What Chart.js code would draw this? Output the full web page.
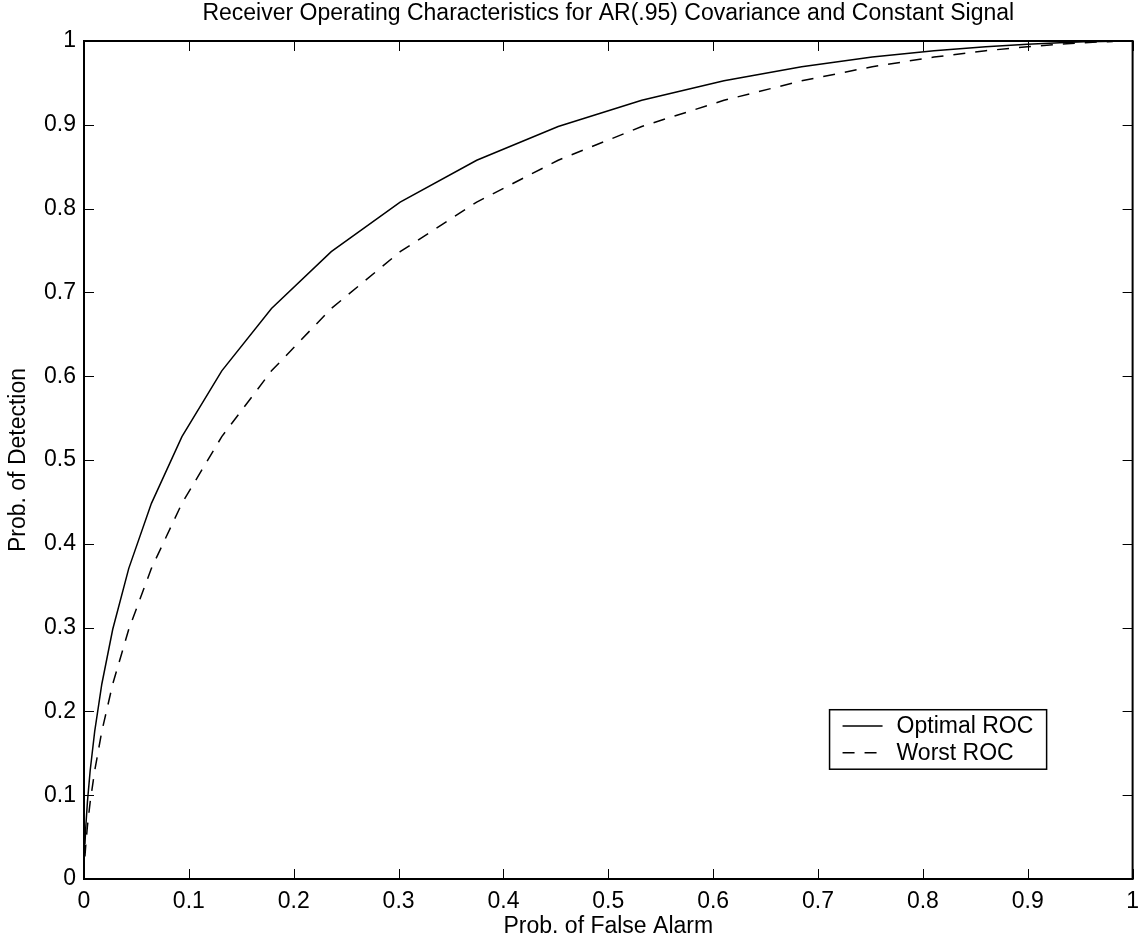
<!DOCTYPE html>
<html>
<head>
<meta charset="utf-8">
<title>Receiver Operating Characteristics</title>
<script src="https://cdn.jsdelivr.net/npm/chart.js@4.4.1/dist/chart.umd.min.js"></script>
<style>
  html, body { margin: 0; padding: 0; background: #ffffff; }
  #wrap { width: 1148px; height: 943px; }
</style>
</head>
<body>
<div id="wrap"><canvas id="rocChart" width="1148" height="943"></canvas></div>
<script>
// ROC operating points, one per detector threshold (shared by both curves)
const falseAlarm = [
  0.0009, 0.00175, 0.00326, 0.00587, 0.0102, 0.0170, 0.0274, 0.0427, 0.0643,
  0.0934, 0.1314, 0.1788, 0.2358, 0.3015, 0.3745, 0.4522, 0.5319, 0.6103,
  0.6844, 0.7517, 0.8106, 0.8599, 0.8997, 0.9306, 0.9535, 0.9699, 0.9812
];
const optimalDetect = [
  0.0418, 0.0630, 0.0918, 0.1292, 0.1762, 0.2327, 0.2980, 0.3707, 0.4483,
  0.5279, 0.6064, 0.6808, 0.7486, 0.8078, 0.8577, 0.8980, 0.9292, 0.9525,
  0.9693, 0.9808, 0.9884, 0.9932, 0.9962, 0.9980, 0.9990, 0.9995, 0.9998
];
const worstDetect = [
  0.0268, 0.0418, 0.0630, 0.0918, 0.1292, 0.1762, 0.2327, 0.2980, 0.3707,
  0.4483, 0.5279, 0.6064, 0.6808, 0.7486, 0.8078, 0.8577, 0.8980, 0.9292,
  0.9525, 0.9693, 0.9808, 0.9884, 0.9932, 0.9962, 0.9980, 0.9990, 0.9995
];
const tickValues = [0, 0.1, 0.2, 0.3, 0.4, 0.5, 0.6, 0.7, 0.8, 0.9, 1];
const seriesNames = ["Optimal ROC", "Worst ROC"];

const FONT = "'Liberation Sans', Arial, Helvetica, sans-serif";
const FONT_SIZE = 23;
const DASH = [12, 10];

function toPoints(xs, ys) {
  return xs.map((x, i) => ({ x, y: ys[i] }));
}

// box around the axes with MATLAB-style inward ticks on every side
const frameTicks = {
  id: "frameTicks",
  afterDatasetsDraw(chart) {
    const { ctx, chartArea: a, scales } = chart;
    const len = 10;
    ctx.save();
    ctx.strokeStyle = "#000";
    ctx.lineWidth = 1;
    ctx.beginPath();
    tickValues.forEach(v => {
      const px = Math.round(scales.x.getPixelForValue(v)) + 0.5;
      ctx.moveTo(px, a.bottom); ctx.lineTo(px, a.bottom - len);
      ctx.moveTo(px, a.top); ctx.lineTo(px, a.top + len);
      const py = Math.round(scales.y.getPixelForValue(v)) + 0.5;
      ctx.moveTo(a.left, py); ctx.lineTo(a.left + len, py);
      ctx.moveTo(a.right, py); ctx.lineTo(a.right - len, py);
    });
    ctx.stroke();
    ctx.lineWidth = 2;
    ctx.strokeRect(a.left, a.top, a.right - a.left, a.bottom - a.top);
    ctx.restore();
  }
};

// boxed legend in the lower right of the plot
const legendBox = {
  id: "legendBox",
  afterDraw(chart) {
    const { ctx, scales } = chart;
    const left = scales.x.getPixelForValue(0.711);
    const right = scales.x.getPixelForValue(0.918);
    const top = scales.y.getPixelForValue(0.202);
    const bottom = scales.y.getPixelForValue(0.131);
    ctx.save();
    ctx.fillStyle = "#fff";
    ctx.fillRect(left, top, right - left, bottom - top);
    ctx.strokeStyle = "#000";
    ctx.lineWidth = 1.5;
    ctx.strokeRect(left, top, right - left, bottom - top);
    ctx.font = FONT_SIZE + "px " + FONT;
    ctx.textBaseline = "middle";
    ctx.fillStyle = "#000";
    const rowH = (bottom - top) / 2;
    chart.data.datasets.forEach((ds, i) => {
      const y = top + rowH * (i + 0.5) + (i === 0 ? 1.5 : -1.5);
      ctx.beginPath();
      ctx.lineWidth = ds.borderWidth;
      ctx.setLineDash(ds.borderDash || []);
      ctx.moveTo(left + 13, y);
      ctx.lineTo(left + 53, y);
      ctx.stroke();
      ctx.setLineDash([]);
      ctx.fillText(ds.label, left + 67, y + 1);
    });
    ctx.restore();
  }
};

const ctx = document.getElementById("rocChart").getContext("2d");
new Chart(ctx, {
  type: "scatter",
  data: {
    datasets: [
      {
        label: seriesNames[0],
        data: toPoints(falseAlarm, optimalDetect),
        showLine: true,
        borderColor: "#000",
        borderWidth: 1.5,
        pointRadius: 0,
        tension: 0
      },
      {
        label: seriesNames[1],
        data: toPoints(falseAlarm, worstDetect),
        showLine: true,
        borderColor: "#000",
        borderWidth: 1.5,
        borderDash: DASH,
        pointRadius: 0,
        tension: 0
      }
    ]
  },
  options: {
    responsive: false,
    animation: false,
    devicePixelRatio: 1,
    layout: { padding: { left: 0, right: 11, top: 0, bottom: 0 } },
    plugins: {
      legend: { display: false },
      tooltip: { enabled: false },
      title: {
        display: true,
        fullSize: false,
        text: "Receiver Operating Characteristics for AR(.95) Covariance and Constant Signal",
        color: "#000",
        font: { family: FONT, size: FONT_SIZE, weight: "normal" },
        padding: { top: 0, bottom: 13.4 }
      }
    },
    scales: {
      x: {
        type: "linear",
        min: 0,
        max: 1,
        grid: { display: false, drawTicks: false },
        border: { display: false },
        ticks: {
          stepSize: 0.1,
          color: "#000",
          padding: 9,
          maxRotation: 0,
          font: { family: FONT, size: FONT_SIZE },
          callback: v => String(+v.toFixed(1))
        },
        title: {
          display: true,
          text: "Prob. of False Alarm",
          color: "#000",
          font: { family: FONT, size: FONT_SIZE },
          padding: { top: 0, bottom: 3 }
        },
        afterFit: scale => { scale.height = 64; }
      },
      y: {
        type: "linear",
        min: 0,
        max: 1,
        grid: { display: false, drawTicks: false },
        border: { display: false },
        ticks: {
          stepSize: 0.1,
          color: "#000",
          padding: 8,
          font: { family: FONT, size: FONT_SIZE },
          callback: v => String(+v.toFixed(1))
        },
        title: {
          display: true,
          text: "Prob. of Detection",
          color: "#000",
          font: { family: FONT, size: FONT_SIZE },
          padding: { top: 5, bottom: 0 }
        },
        afterFit: scale => { scale.width = 84; }
      }
    }
  },
  plugins: [frameTicks, legendBox]
});
</script>
</body>
</html>
